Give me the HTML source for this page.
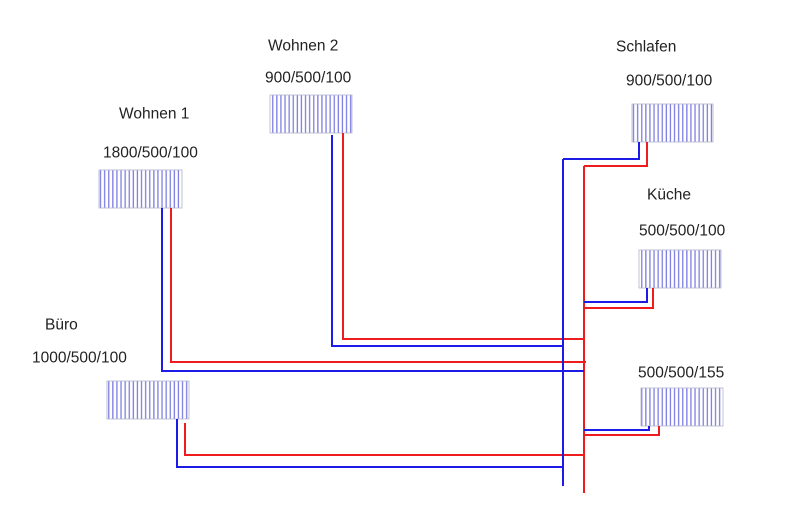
<!DOCTYPE html>
<html><head><meta charset="utf-8"><style>
html,body{margin:0;padding:0;background:#fff;}
svg{display:block;}
text{font-family:"Liberation Sans",Arial,sans-serif;font-size:15.5px;fill:#222;}
</style></head><body>
<svg width="800" height="523" viewBox="0 0 800 523" xmlns="http://www.w3.org/2000/svg">
<defs>
<pattern id="hp" width="4.1" height="10" patternUnits="userSpaceOnUse">
<rect x="1.5" y="0" width="1.3" height="10" fill="#7d7de2"/>
</pattern>
</defs>
<rect width="800" height="523" fill="#fff"/>

<!-- labels -->
<text x="119" y="118.5">Wohnen 1</text>
<text x="103" y="157.5">1800/500/100</text>
<text x="268" y="50.5">Wohnen 2</text>
<text x="265" y="82.5">900/500/100</text>
<text x="616" y="51.5">Schlafen</text>
<text x="626" y="85.5">900/500/100</text>
<text x="647" y="199.5">Küche</text>
<text x="639" y="235.5">500/500/100</text>
<text x="638" y="377.5">500/500/155</text>
<text x="45" y="329.5">Büro</text>
<text x="32" y="362.5">1000/500/100</text>

<!-- radiators -->
<g stroke="#b4b4cc" stroke-width="0.8">
<rect x="99" y="170" width="83" height="38" fill="url(#hp)"/>
<rect x="270" y="95" width="82" height="38" fill="url(#hp)"/>
<rect x="632" y="104" width="81" height="38" fill="url(#hp)"/>
<rect x="639" y="250" width="82" height="38" fill="url(#hp)"/>
<rect x="641" y="388" width="82" height="38" fill="url(#hp)"/>
<rect x="107" y="381" width="82" height="38" fill="url(#hp)"/>
</g>

<!-- red pipes -->
<g fill="none" stroke="#ee1c1c" stroke-width="2">
<line x1="584" y1="166" x2="584" y2="493"/>
<polyline points="647,142 647,166 584,166"/>
<polyline points="653,288 653,308 584,308"/>
<polyline points="659,426 659,435 584,435"/>
<polyline points="343,133 343,339 585,339"/>
<polyline points="171,208 171,362 586,362"/>
<polyline points="185,423 185,455 585,455"/>
</g>
<!-- blue pipes -->
<g fill="none" stroke="#1c1ce6" stroke-width="2">
<line x1="563" y1="159" x2="563" y2="486"/>
<polyline points="639,142 639,159 563,159"/>
<polyline points="647,288 647,302 584,302"/>
<polyline points="649,426 649,430 584,430"/>
<polyline points="332,135 332,346 564,346"/>
<polyline points="162,208 162,371 584,371"/>
<polyline points="177,419 177,467 564,467"/>
</g>
</svg>
</body></html>
